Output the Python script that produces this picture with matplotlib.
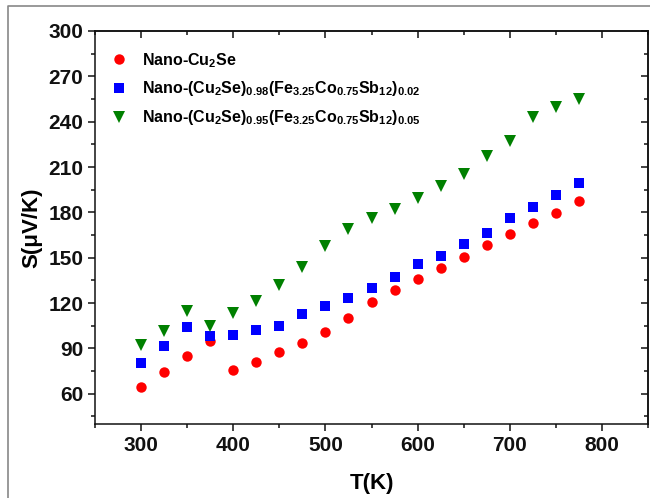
import matplotlib
matplotlib.use("Agg")
import matplotlib.pyplot as plt
from matplotlib.lines import Line2D
from matplotlib.ticker import MultipleLocator

# Seebeck coefficient vs temperature for the three nano samples
T = [300, 325, 350, 375, 400, 425, 450, 475, 500, 525,
     550, 575, 600, 625, 650, 675, 700, 725, 750, 775]

S_cu2se = [64.6, 74.1, 84.7, 94.6, 75.7, 81.2, 87.4, 93.8, 101.0, 110.3,
           120.7, 128.4, 136.1, 143.2, 150.7, 158.2, 165.4, 172.9, 179.3, 187.3]
S_x002 = [80.5, 91.5, 103.9, 97.9, 99.0, 102.1, 104.6, 112.5, 118.2, 123.3,
          129.7, 137.0, 146.0, 151.3, 158.8, 166.5, 176.0, 183.5, 191.5, 199.4]
S_x005 = [92.2, 101.3, 114.5, 104.8, 113.4, 121.3, 131.7, 143.8, 157.5, 169.0,
          176.3, 182.2, 189.5, 197.2, 205.6, 217.4, 227.3, 243.1, 249.8, 255.0]

labels = [r"Nano-Cu$_2$Se",
          r"Nano-(Cu$_2$Se)$_{0.98}$(Fe$_{3.25}$Co$_{0.75}$Sb$_{12}$)$_{0.02}$",
          r"Nano-(Cu$_2$Se)$_{0.95}$(Fe$_{3.25}$Co$_{0.75}$Sb$_{12}$)$_{0.05}$"]

plt.rcParams['font.family'] = ['Liberation Sans', 'DejaVu Sans']
plt.rcParams['font.weight'] = 'bold'
plt.rcParams['mathtext.fontset'] = 'custom'
plt.rcParams['mathtext.rm'] = 'Liberation Sans:bold'
plt.rcParams['mathtext.it'] = 'Liberation Sans:bold'
plt.rcParams['mathtext.bf'] = 'Liberation Sans:bold'
plt.rcParams['mathtext.default'] = 'rm'

fig = plt.figure(figsize=(6.5, 4.98), dpi=100)
ax = fig.add_axes([0.1462, 0.1486, 0.8508, 0.7892])

ax.plot(T, S_cu2se, 'o', color='#ff0000', ms=7.5, mew=0, label=labels[0])
ax.plot(T, S_x002, 's', color='#0000ff', ms=6.8, mew=0, label=labels[1])
ax.plot(T, S_x005, 'v', color='#008000', ms=8, mew=0, label=labels[2])

ax.set_xlim(250, 850)
ax.set_ylim(40, 300)
ax.xaxis.set_major_locator(MultipleLocator(100))
ax.xaxis.set_minor_locator(MultipleLocator(50))
ax.yaxis.set_major_locator(MultipleLocator(30))
ax.yaxis.set_minor_locator(MultipleLocator(15))

# bottom/left ticks point out, mirrored ticks on top/right point in
ax.tick_params(which='both', direction='out', top=False, right=False,
               labelsize=15, width=1.1, colors='#111111')
ax.tick_params(which='major', length=5)
ax.tick_params(which='minor', length=3)
for lab in ax.get_xticklabels() + ax.get_yticklabels():
    lab.set_fontweight('bold')

sx = ax.secondary_xaxis('top')
sx.xaxis.set_major_locator(MultipleLocator(100))
sx.xaxis.set_minor_locator(MultipleLocator(50))
sx.tick_params(which='both', direction='in', labeltop=False, width=1.1, colors='#111111')
sx.tick_params(which='major', length=5)
sx.tick_params(which='minor', length=3)
sy = ax.secondary_yaxis('right')
sy.yaxis.set_major_locator(MultipleLocator(30))
sy.yaxis.set_minor_locator(MultipleLocator(15))
sy.tick_params(which='both', direction='in', labelright=False, width=1.1, colors='#111111')
sy.tick_params(which='major', length=5)
sy.tick_params(which='minor', length=3)
for a in (ax, sx, sy):
    for s in a.spines.values():
        s.set_linewidth(1.1)
        s.set_color('#111111')

ax.set_xlabel('T(K)', fontsize=16, fontweight='bold', labelpad=13)
ax.set_ylabel('S(μV/K)', fontsize=16, fontweight='bold', labelpad=4)

ax.legend(loc='upper left', bbox_to_anchor=(0.0, 0.99), frameon=False,
          fontsize=11.5, numpoints=1, handlelength=1.0, handletextpad=0.95,
          labelspacing=0.62, borderaxespad=0.6)

# thin grey frame around the figure
fig.add_artist(Line2D([8 / 650, 8 / 650, 1.0], [0.0, 1 - 6 / 498, 1 - 6 / 498],
                      transform=fig.transFigure, color='#888888', lw=1.2))

fig.savefig('out.png', dpi=100)
